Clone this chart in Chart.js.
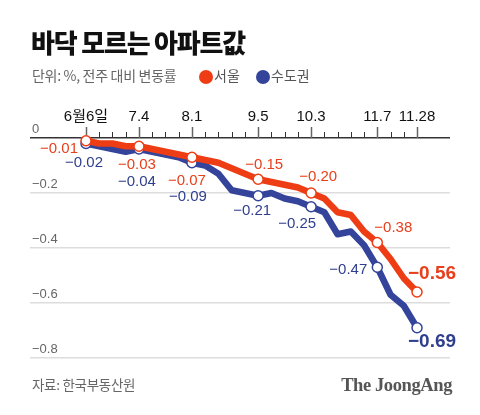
<!DOCTYPE html>
<html>
<head>
<meta charset="utf-8">
<script src="https://cdn.jsdelivr.net/npm/chart.js@4/dist/chart.umd.min.js"></script>
<style>
  body { margin: 0; background: #fff; }
  #wrap { position: relative; width: 480px; height: 415px; overflow: hidden; font-family: "Noto Sans CJK KR", "Noto Sans", sans-serif; }
  #chart { position: absolute; left: 0; top: 0; }
  .t { position: absolute; white-space: nowrap; line-height: 1; }
  #title { left: 31px; top: 29px; font-size: 26px; font-weight: 900; letter-spacing: -1.2px; color: #111; }
  #sub { left: 32px; top: 68px; font-size: 14px; color: #666; letter-spacing: -0.3px; }
  .dot { position: absolute; width: 14px; height: 14px; border-radius: 50%; top: 70px; }
  .lg { top: 68px; font-size: 14px; color: #555; }
  #src { left: 32px; top: 378px; font-size: 13.5px; color: #666; letter-spacing: -0.3px; }
  #brand { right: 28px; top: 376px; font-family: "Liberation Serif", "DejaVu Serif", serif; font-weight: 700; font-size: 18.5px; color: #555; letter-spacing: -0.4px; }
</style>
</head>
<body>
<div id="wrap">
  <canvas id="chart" width="480" height="415"></canvas>
  <div class="t" id="title">바닥 모르는 아파트값</div>
  <div class="t" id="sub">단위: %, 전주 대비 변동률</div>
  <div class="dot" style="left:199px;background:#EE3D14"></div>
  <div class="t lg" style="left:214px">서울</div>
  <div class="dot" style="left:256px;background:#34449A"></div>
  <div class="t lg" style="left:271px">수도권</div>
  <div class="t" id="src">자료: 한국부동산원</div>
  <div class="t" id="brand">The JoongAng</div>
</div>
<script>
// weekly survey dates (2022)
const weeks = ['6.6','6.13','6.20','6.27','7.4','7.11','7.18','7.25','8.1','8.8','8.15','8.22','8.29',
  '9.5','9.12','9.19','9.26','10.3','10.10','10.17','10.24','10.31','11.7','11.14','11.21','11.28'];
const tickWeeks = ['6.6','7.4','8.1','9.5','10.3','11.7','11.28'];
const tickLabels = ['6월6일','7.4','8.1','9.5','10.3','11.7','11.28'];
const yTicks = [0, -0.2, -0.4, -0.6, -0.8];

const seoul = [-0.01,-0.02,-0.02,-0.03,-0.03,-0.04,-0.05,-0.06,-0.07,-0.08,-0.09,-0.11,-0.13,
  -0.15,-0.16,-0.17,-0.18,-0.20,-0.22,-0.27,-0.28,-0.34,-0.38,-0.44,-0.51,-0.56];
const metro = [-0.02,-0.03,-0.04,-0.05,-0.04,-0.05,-0.06,-0.07,-0.09,-0.10,-0.13,-0.19,-0.20,
  -0.21,-0.20,-0.22,-0.23,-0.25,-0.27,-0.35,-0.34,-0.39,-0.47,-0.57,-0.61,-0.69];

const RED = '#EE3D14';
const BLUE = '#34449A';
const markIdx = tickWeeks.map(w => weeks.indexOf(w));
const minus = s => s.replace('-', '\u2212');
const fmt = v => minus(v.toFixed(2));
const fmtY = v => v === 0 ? '0' : minus(v.toFixed(1));

// label offsets from the point, per series: [dx, dy, bold]
const labelPos = {
  0: { 0: [-27, 8], 4: [-2, 19], 8: [-5, 24], 13: [6, -14], 17: [7, -16], 22: [16, -15], 25: [15, -18, true] },
  1: { 0: [-2, 19], 4: [-2, 33], 8: [-4, 34], 13: [-6, 15], 17: [-14, 17], 22: [-29, 3], 25: [15, 14, true] }
};

const overlay = {
  id: 'overlay',
  beforeDatasetsDraw(chart) {
    const { ctx, scales: { x, y } } = chart;
    const y0 = y.getPixelForValue(0);
    ctx.save();
    // week ticks above the zero line
    weeks.forEach((w, i) => {
      const px = Math.round(x.getPixelForValue(i)) + 0.5;
      const major = tickWeeks.includes(w);
      ctx.strokeStyle = major ? '#666' : '#333';
      ctx.lineWidth = major ? 1.5 : 1;
      ctx.beginPath();
      ctx.moveTo(px, y0);
      ctx.lineTo(px, y0 - (major ? 11 : 6));
      ctx.stroke();
    });
    // date labels
    ctx.fillStyle = '#111';
    ctx.font = '15px "Liberation Sans", "Noto Sans CJK KR", sans-serif';
    ctx.textAlign = 'center';
    ctx.textBaseline = 'alphabetic';
    tickWeeks.forEach((w, k) => {
      ctx.fillText(tickLabels[k], x.getPixelForValue(weeks.indexOf(w)), y0 - 17);
    });
    // y labels above gridlines
    ctx.fillStyle = '#666';
    ctx.font = '13px "Liberation Sans", sans-serif';
    ctx.textAlign = 'left';
    yTicks.forEach(v => {
      ctx.fillText(fmtY(v), 32, y.getPixelForValue(v) - 5);
    });
    ctx.restore();
  },
  afterDatasetsDraw(chart) {
    const { ctx } = chart;
    ctx.save();
    ctx.textAlign = 'center';
    ctx.textBaseline = 'middle';
    chart.data.datasets.forEach((ds, d) => {
      const meta = chart.getDatasetMeta(d);
      Object.entries(labelPos[d]).forEach(([i, p]) => {
        const pt = meta.data[i];
        ctx.fillStyle = d === 0 ? '#E8401C' : '#2F3F8E';
        ctx.font = p[2] ? 'bold 19px "Liberation Sans", sans-serif' : '15px "Liberation Sans", sans-serif';
        ctx.fillText(fmt(ds.data[i].y), pt.x + p[0], pt.y + p[1]);
      });
    });
    ctx.restore();
  }
};

const mkSet = (label, vals, color) => ({
  label,
  data: vals.map((v, i) => ({ x: i, y: v })),
  borderColor: color,
  borderWidth: 6.5,
  borderJoinStyle: 'round',
  borderCapStyle: 'round',
  tension: 0,
  pointRadius: c => markIdx.includes(c.dataIndex) ? 5 : 0,
  pointBackgroundColor: '#fff',
  pointBorderColor: color,
  pointBorderWidth: 1.5,
  clip: false
});

new Chart(document.getElementById('chart'), {
  type: 'line',
  data: {
    datasets: [mkSet('서울', seoul, RED), mkSet('수도권', metro, BLUE)]
  },
  options: {
    responsive: false,
    animation: false,
    layout: { padding: { left: 30, right: 30, top: 138, bottom: 57 } },
    plugins: { legend: { display: false }, tooltip: { enabled: false } },
    scales: {
      x: { type: 'linear', display: false, min: -4.23, max: 27.49 },
      y: {
        min: -0.8, max: 0,
        afterBuildTicks: s => { s.ticks = yTicks.map(v => ({ value: v })); },
        ticks: { display: false },
        border: { display: false },
        grid: {
          drawTicks: false,
          color: c => c.tick && c.tick.value === 0 ? '#333' : '#ddd',
          lineWidth: 1.5
        }
      }
    }
  },
  plugins: [overlay]
});
</script>
</body>
</html>
